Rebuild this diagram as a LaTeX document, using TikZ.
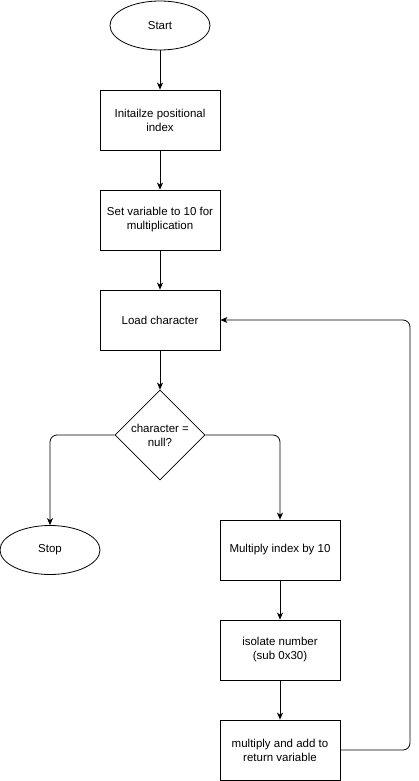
\documentclass[tikz,border=0pt]{standalone}
\usepackage{fontspec}
\setmainfont{Liberation Sans}
\usetikzlibrary{shapes.geometric,arrows.meta}

\tikzset{
  stepbox/.style={draw, line width=0.8pt, minimum width=120pt, minimum height=60pt, inner sep=0pt, align=center, font=\fontsize{11.5}{14}\selectfont},
  terminal/.style={draw, ellipse, line width=0.8pt, minimum width=100pt, minimum height=49pt, inner sep=0pt, font=\fontsize{11.5}{14}\selectfont},
  decision/.style={draw, diamond, line width=0.8pt, minimum size=90pt, inner sep=0pt, align=center, font=\fontsize{11.5}{14}\selectfont},
  flow/.style={line width=0.8pt, -{Stealth[length=7pt,width=6pt,inset=2pt]}, rounded corners=7pt}
}

\begin{document}
\begin{tikzpicture}[x=1pt,y=-1pt]
\useasboundingbox (0,0) rectangle (419,781);

%Start and setup
\node[terminal] (start) at (160,25.5) {Start};
\node[stepbox] (init) at (160,120) {Initailze positional\\index};
\node[stepbox] (setvar) at (160,220) {Set variable to 10 for\\multiplication};
\node[stepbox] (load) at (160,320) {Load character};

%Test
\node[decision] (test) at (160,435) {character =\\null?};
\node[terminal] (stop) at (50,550) {Stop};

%Loop body
\node[stepbox] (mult) at (280,550) {Multiply index by 10};
\node[stepbox] (isolate) at (280,650) {isolate number\\(sub 0x30)};
\node[stepbox] (addret) at (280,750) {multiply and add to\\return variable};

%Arrows
\draw[flow] (start) -- (init);
\draw[flow] (init) -- (setvar);
\draw[flow] (setvar) -- (load);
\draw[flow] (load) -- (test);
\draw[flow] (test.west) -| (stop.north);
\draw[flow] (test.east) -| (mult.north);
\draw[flow] (mult) -- (isolate);
\draw[flow] (isolate) -- (addret);
\draw[flow] (addret.east) -- (410,750) -- (410,320) -- (load.east);

\end{tikzpicture}
\end{document}
